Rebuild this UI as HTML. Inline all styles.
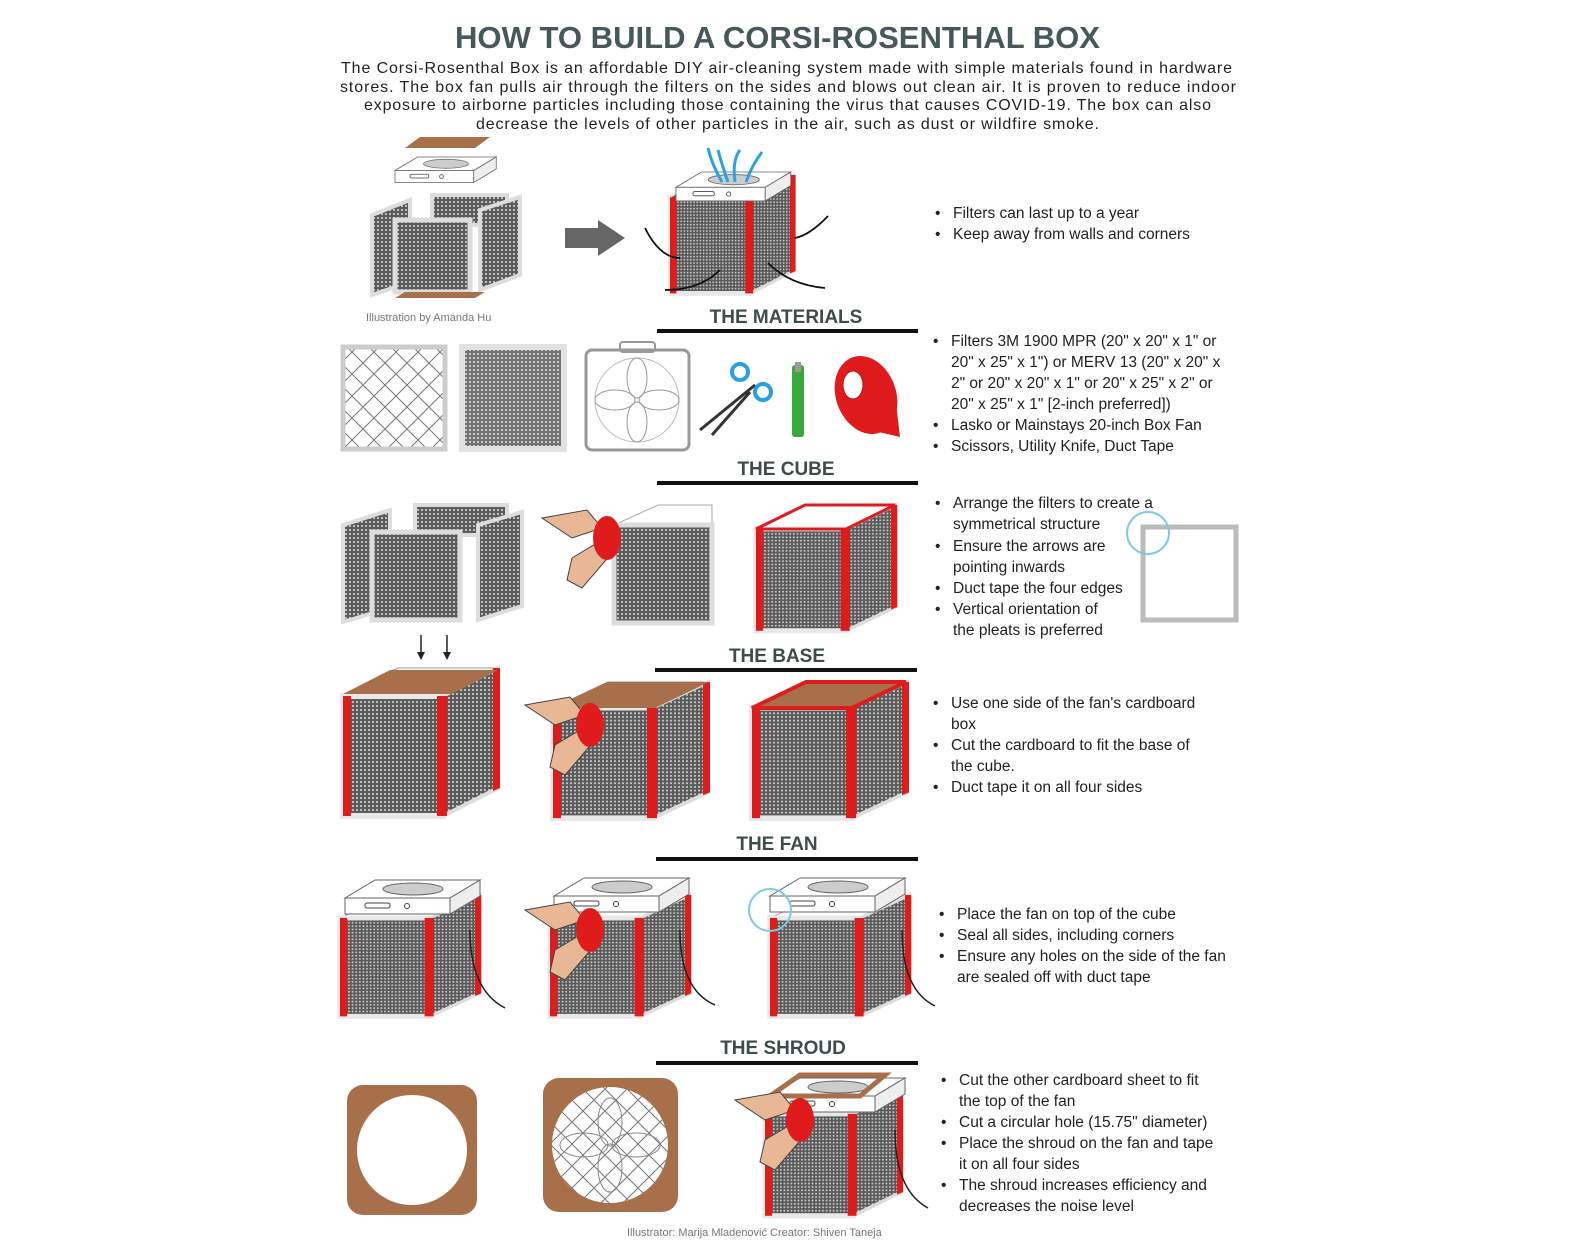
<!DOCTYPE html>
<html><head><meta charset="utf-8"><style>
html,body{margin:0;padding:0;background:#fff}
svg{display:block}
.t{font-family:"Liberation Sans",sans-serif}
.b{font-family:"Liberation Sans",sans-serif;font-size:15.5px;fill:#222}
.h{font-family:"Liberation Sans",sans-serif;font-weight:bold;font-size:19px;fill:#3f4c4c;text-anchor:middle}
</style></head><body>
<svg width="1580" height="1259" viewBox="0 0 1580 1259" xmlns="http://www.w3.org/2000/svg">
<defs>
<pattern id="mesh" width="4" height="4" patternUnits="userSpaceOnUse">
<rect width="4" height="4" fill="#5a5a5a"/><circle cx="2" cy="2" r="1.1" fill="#c8c8c8"/>
</pattern>
<pattern id="lat" width="22" height="22" patternUnits="userSpaceOnUse">
<rect width="22" height="22" fill="#fff"/><path d="M0 0L22 22M22 0L0 22" stroke="#777" stroke-width="1"/>
</pattern>
<g id="cube">
<polygon points="0,28 55,0 155,0 100,28" fill="#fff" stroke="#999"/>
<polygon points="100,28 155,0 155,120 100,148" fill="url(#mesh)" stroke="#ddd" stroke-width="4"/>
<rect x="0" y="28" width="100" height="120" fill="url(#mesh)" stroke="#e8e8e8" stroke-width="6"/>
<rect x="0" y="28" width="8" height="120" fill="#e01b1b"/>
<rect x="94" y="28" width="10" height="120" fill="#e01b1b"/>
<polygon points="150,0 157,0 157,120 150,123" fill="#e01b1b"/>
</g>
<g id="fan">
<polygon points="0,18 30,0 135,0 105,18" fill="#fff" stroke="#666"/>
<ellipse cx="68" cy="9" rx="30" ry="6" fill="#ccc" stroke="#666"/>
<rect x="0" y="18" width="105" height="16" fill="#fff" stroke="#666"/>
<polygon points="105,18 135,0 135,16 105,34" fill="#eee" stroke="#666"/>
<rect x="20" y="23" width="25" height="5" rx="2" fill="none" stroke="#444"/>
<circle cx="62" cy="26" r="2.5" fill="none" stroke="#444"/>
</g>
<g id="hands">
<path d="M0,0 L45,-8 L60,10 L30,20 Z" fill="#e8b896" stroke="#444"/>
<path d="M30,40 L55,25 L70,35 L40,70 L25,62 Z" fill="#e8b896" stroke="#444"/>
<ellipse cx="65" cy="20" rx="14" ry="22" fill="#e01b1b"/>
</g>
</defs>

<text x="455" y="48" class="t" font-size="31" font-weight="bold" fill="#46585a" textLength="645" lengthAdjust="spacingAndGlyphs">HOW TO BUILD A CORSI-ROSENTHAL BOX</text>
<g class="t" font-size="16" fill="#222">
<text x="341" y="73" textLength="891" lengthAdjust="spacing">The Corsi-Rosenthal Box is an affordable DIY air-cleaning system made with simple materials found in hardware</text>
<text x="340" y="92" textLength="896" lengthAdjust="spacing">stores. The box fan pulls air through the filters on the sides and blows out clean air. It is proven to reduce indoor</text>
<text x="364" y="110" textLength="847" lengthAdjust="spacing">exposure to airborne particles including those containing the virus that causes COVID-19. The box can also</text>
<text x="476" y="129" textLength="623" lengthAdjust="spacing">decrease the levels of other particles in the air, such as dust or wildfire smoke.</text>
</g>

<polygon points="405,148 420,137 490,137 475,148" fill="#a8704a"/>
<use href="#fan" transform="translate(395,157) scale(0.75)"/>
<rect x="432" y="195" width="75" height="30" fill="url(#mesh)" stroke="#ddd" stroke-width="4"/>
<polygon points="372,215 410,200 410,282 372,295" fill="url(#mesh)" stroke="#ddd" stroke-width="4"/>
<polygon points="480,210 520,197 520,275 480,290" fill="url(#mesh)" stroke="#ddd" stroke-width="4"/>
<rect x="395" y="220" width="75" height="72" fill="url(#mesh)" stroke="#ddd" stroke-width="5"/>
<polygon points="395,298 405,292 485,292 475,298" fill="#a8704a"/>
<polygon points="565,228 598,228 598,220 625,238 598,256 598,248 565,248" fill="#666"/>
<use href="#cube" transform="translate(670,175) scale(0.8)"/>
<polygon points="670,198 714,175 794,175 750,198" fill="#e01b1b"/>
<use href="#fan" transform="translate(676,172) scale(0.85)"/>
<g stroke="#2aa3e0" stroke-width="3" fill="none">
<path d="M722,182 Q712,165 708,148"/><path d="M735,182 Q732,160 740,150"/><path d="M746,182 Q752,165 762,152"/><path d="M728,182 Q722,165 718,150"/>
</g>
<g stroke="#111" stroke-width="1.8" fill="none">
<path d="M645,228 Q660,258 680,258"/><path d="M828,216 Q810,235 795,238"/><path d="M665,290 Q700,290 720,270"/><path d="M825,288 Q790,285 768,263"/>
</g>
<text x="366" y="321" class="t" font-size="11" fill="#777">Illustration by Amanda Hu</text>
<g class="b"><text x="935" y="218">•</text><text x="953" y="218">Filters can last up to a year</text><text x="935" y="239">•</text><text x="953" y="239">Keep away from walls and corners</text></g>

<text x="786" y="323" class="h">THE MATERIALS</text>
<rect x="657" y="329" width="261" height="4" fill="#111"/>
<rect x="343" y="347" width="102" height="102" fill="url(#lat)" stroke="#ccc" stroke-width="5"/>
<rect x="462" y="347" width="102" height="102" fill="url(#mesh)" stroke="#ddd" stroke-width="6" opacity="0.85"/>
<rect x="586" y="350" width="103" height="100" rx="6" fill="#fff" stroke="#999" stroke-width="3"/>
<rect x="620" y="342" width="35" height="10" rx="3" fill="none" stroke="#999" stroke-width="2"/>
<circle cx="637" cy="400" r="42" fill="none" stroke="#bbb"/>
<g fill="none" stroke="#999"><ellipse cx="637" cy="378" rx="10" ry="20"/><ellipse cx="637" cy="422" rx="10" ry="20"/><ellipse cx="615" cy="400" rx="20" ry="10"/><ellipse cx="659" cy="400" rx="20" ry="10"/></g>
<g stroke="#333" stroke-width="3"><line x1="700" y1="430" x2="755" y2="385"/><line x1="712" y1="435" x2="750" y2="392"/></g>
<circle cx="740" cy="372" r="8" fill="none" stroke="#2a9fe0" stroke-width="4"/><circle cx="763" cy="392" r="8" fill="none" stroke="#2a9fe0" stroke-width="4"/>
<rect x="792" y="365" width="12" height="72" rx="3" fill="#38a838"/><rect x="795" y="362" width="6" height="10" fill="#999"/>
<ellipse cx="866" cy="395" rx="30" ry="40" fill="#e01b1b" transform="rotate(-20 866 395)"/>
<ellipse cx="853" cy="385" rx="10" ry="14" fill="#fff" stroke="#b11"/>
<path d="M870,430 L900,437 L895,395 Z" fill="#e01b1b"/>
<g class="b">
<text x="933" y="346">•</text><text x="951" y="346">Filters  3M 1900 MPR (20" x 20" x 1" or</text>
<text x="951" y="367">20" x 25" x 1") or MERV 13 (20" x 20" x</text>
<text x="951" y="388">2" or 20" x 20" x 1" or 20" x 25" x 2" or</text>
<text x="951" y="409">20" x 25" x 1" [2-inch preferred])</text>
<text x="933" y="430">•</text><text x="951" y="430">Lasko or Mainstays 20-inch Box Fan</text>
<text x="933" y="451">•</text><text x="951" y="451">Scissors, Utility Knife, Duct Tape</text>
</g>

<text x="786" y="475" class="h">THE CUBE</text>
<rect x="657" y="481" width="261" height="4" fill="#111"/>
<rect x="415" y="505" width="92" height="30" fill="url(#mesh)" stroke="#ddd" stroke-width="4"/>
<polygon points="343,525 390,510 390,608 343,622" fill="url(#mesh)" stroke="#ddd" stroke-width="4"/>
<polygon points="478,525 522,512 522,606 478,620" fill="url(#mesh)" stroke="#ddd" stroke-width="4"/>
<rect x="372" y="532" width="88" height="88" fill="url(#mesh)" stroke="#ddd" stroke-width="5"/>
<polygon points="614,525 658,505 712,505 712,525" fill="#fff" stroke="#aaa"/>
<rect x="614" y="525" width="98" height="98" fill="url(#mesh)" stroke="#ddd" stroke-width="5"/>
<use href="#hands" transform="translate(542,518)"/>
<use href="#cube" transform="translate(756,505) scale(0.9,0.85)"/>
<polygon points="756,529 805,505 895,505 846,529" fill="#fff" stroke="#e01b1b" stroke-width="3"/>
<g stroke="#222" stroke-width="1.5"><line x1="421" y1="635" x2="421" y2="656"/><line x1="447" y1="635" x2="447" y2="656"/></g>
<path d="M417,652 L421,660 L425,652 Z M443,652 L447,660 L451,652 Z" fill="#222"/>
<g class="b">
<text x="935" y="508">•</text><text x="953" y="508">Arrange the filters to create a</text>
<text x="953" y="529">symmetrical structure</text>
<text x="935" y="551">•</text><text x="953" y="551">Ensure the arrows are</text>
<text x="953" y="572">pointing inwards</text>
<text x="935" y="593">•</text><text x="953" y="593">Duct tape the four edges</text>
<text x="935" y="614">•</text><text x="953" y="614">Vertical orientation of</text>
<text x="953" y="635">the pleats is preferred</text>
</g>
<rect x="1143" y="527" width="93" height="93" fill="none" stroke="#bbb" stroke-width="5"/>
<circle cx="1148" cy="533" r="21" fill="none" stroke="#7cc9e8" stroke-width="2"/>

<text x="777" y="662" class="h">THE BASE</text>
<rect x="655" y="668" width="262" height="4" fill="#111"/>
<use href="#cube" transform="translate(343,668)"/>
<polygon points="343,694 390,670 498,670 452,694" fill="#a8704a"/>
<use href="#cube" transform="translate(553,682) scale(1,0.92)"/>
<polygon points="553,708 607,682 709,682 655,708" fill="#a8704a"/>
<use href="#hands" transform="translate(525,705)"/>
<use href="#cube" transform="translate(752,682) scale(1,0.92)"/>
<polygon points="752,708 806,682 906,682 852,708" fill="#a8704a" stroke="#e01b1b" stroke-width="4"/>
<g class="b">
<text x="933" y="708">•</text><text x="951" y="708">Use one side of the fan's cardboard</text>
<text x="951" y="729">box</text>
<text x="933" y="750">•</text><text x="951" y="750">Cut the cardboard to fit the base of</text>
<text x="951" y="771">the cube.</text>
<text x="933" y="792">•</text><text x="951" y="792">Duct tape it on all four sides</text>
</g>

<text x="777" y="850" class="h">THE FAN</text>
<rect x="656" y="857" width="262" height="4" fill="#111"/>
<use href="#cube" transform="translate(340,895) scale(0.9,0.82)"/>
<use href="#fan" transform="translate(345,880)"/>
<use href="#cube" transform="translate(550,895) scale(0.9,0.82)"/>
<use href="#fan" transform="translate(554,878)"/>
<use href="#hands" transform="translate(525,910)"/>
<use href="#cube" transform="translate(770,895) scale(0.9,0.82)"/>
<use href="#fan" transform="translate(770,878)"/>
<circle cx="770" cy="910" r="21" fill="none" stroke="#7cc9e8" stroke-width="2"/>
<g stroke="#222" stroke-width="1.5" fill="none">
<path d="M470,930 Q470,990 505,1008"/><path d="M680,930 Q680,990 715,1005"/><path d="M902,930 Q902,990 935,1006"/>
</g>
<g class="b">
<text x="939" y="919">•</text><text x="957" y="919">Place the fan on top of the cube</text>
<text x="939" y="940">•</text><text x="957" y="940">Seal all sides, including corners</text>
<text x="939" y="961">•</text><text x="957" y="961">Ensure any holes on the side of the fan</text>
<text x="957" y="982">are sealed off with duct tape</text>
</g>

<text x="783" y="1054" class="h">THE SHROUD</text>
<rect x="656" y="1061" width="262" height="4" fill="#111"/>
<rect x="347" y="1085" width="130" height="130" rx="16" fill="#a8704a"/>
<circle cx="412" cy="1150" r="55" fill="#fff"/>
<rect x="543" y="1078" width="135" height="134" rx="16" fill="#a8704a"/>
<circle cx="610" cy="1145" r="58" fill="url(#lat)"/>
<g fill="none" stroke="#888"><ellipse cx="610" cy="1122" rx="12" ry="24"/><ellipse cx="610" cy="1168" rx="12" ry="24"/><ellipse cx="584" cy="1145" rx="24" ry="12"/><ellipse cx="636" cy="1145" rx="24" ry="12"/></g>
<use href="#cube" transform="translate(765,1090) scale(0.88,0.85)"/>
<use href="#fan" transform="translate(770,1078)"/>
<polygon points="770,1096 800,1075 885,1075 860,1096" fill="none" stroke="#a8704a" stroke-width="5"/>
<use href="#hands" transform="translate(735,1100)"/>
<path d="M895,1130 Q895,1190 928,1208" stroke="#222" stroke-width="1.5" fill="none"/>
<g class="b">
<text x="941" y="1085">•</text><text x="959" y="1085">Cut the other cardboard sheet to fit</text>
<text x="959" y="1106">the top of the fan</text>
<text x="941" y="1127">•</text><text x="959" y="1127">Cut a circular hole (15.75" diameter)</text>
<text x="941" y="1148">•</text><text x="959" y="1148">Place the shroud on the fan and tape</text>
<text x="959" y="1169">it on all four sides</text>
<text x="941" y="1190">•</text><text x="959" y="1190">The shroud increases efficiency and</text>
<text x="959" y="1211">decreases the noise level</text>
</g>
<text x="627" y="1236" class="t" font-size="11" fill="#777">Illustrator: Marija Mladenović    Creator: Shiven Taneja</text>
</svg>
</body></html>
